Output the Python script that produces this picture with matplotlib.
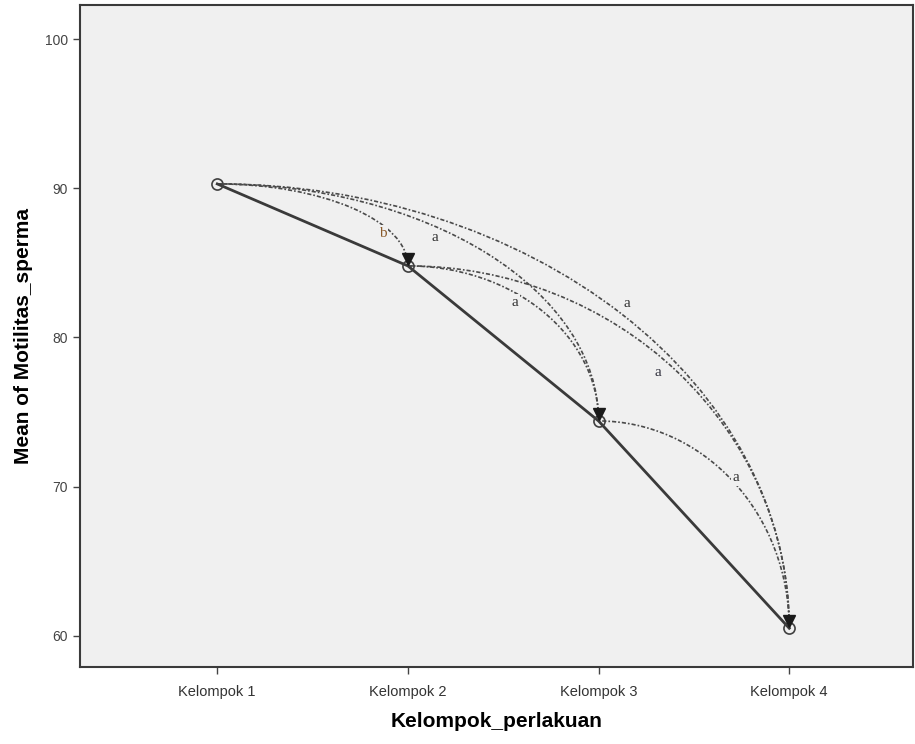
import numpy as np
import matplotlib
matplotlib.use("Agg")
import matplotlib.pyplot as plt
from matplotlib.patches import Arc
from matplotlib.transforms import offset_copy

plt.rcParams['font.family'] = ['Liberation Sans', 'DejaVu Sans']

# Data
groups = ["Kelompok 1", "Kelompok 2", "Kelompok 3", "Kelompok 4"]
mean_motility = [90.3, 84.8, 74.4, 60.5]

# pairwise comparisons (from, to) and significance letters
pairs = [(0, 1), (0, 2), (0, 3), (1, 2), (1, 3), (2, 3)]
pair_letters = ["b", "a", "a", "a", "a", "a"]
letter_x = [0.87, 1.14, 2.15, 1.56, 2.31, 2.72]
letter_y = [87.0, 86.7, 82.3, 82.35, 77.65, 70.6]
letter_colors = ["#8a5a2a", "#333333", "#333333", "#333333", "#333340", "#333333"]

yticks = [60, 70, 80, 90, 100]

fig = plt.figure(figsize=(9.15, 7.44), dpi=100)
ax = fig.add_axes([0.0874, 0.1035, 0.9106, 0.8898])
ax.set_facecolor("#f0f0f0")

x = np.arange(len(groups))
ax.plot(x, mean_motility, '-', color="#3a3a3a", linewidth=2, zorder=3)
ax.plot(x, mean_motility, 'o', markersize=8, markerfacecolor="none",
        markeredgecolor="#404040", markeredgewidth=1.2, zorder=4)

# comparison arcs: quarter ellipses leaving horizontally, arriving vertically
for (i, j), letter, lx, ly, lc in zip(pairs, pair_letters, letter_x, letter_y, letter_colors):
    x0, y0 = x[i], mean_motility[i]
    x1, y1 = x[j], mean_motility[j]
    arc = Arc((x0, y1), 2 * (x1 - x0), 2 * (y0 - y1), theta1=0, theta2=90,
              color="#4a4a4a", linewidth=1.2, linestyle=(0, (2.5, 1.2, 1, 1.2)), zorder=2)
    ax.add_patch(arc)
    ax.text(lx, ly, letter, fontsize=11, color=lc, ha="center", va="center",
            family="Liberation Serif", zorder=5,
            bbox=dict(boxstyle="square,pad=0.1", facecolor="#f0f0f0", edgecolor="none"))

# arrow heads at targets
targets = sorted(set(j for _, j in pairs))
tri_trans = offset_copy(ax.transData, fig=fig, x=0, y=5, units='points')
ax.plot([x[t] for t in targets], [mean_motility[t] for t in targets], 'v',
        color="#1a1a1a", markersize=9, transform=tri_trans, zorder=6)

ax.set_xlim(-0.72, 3.65)
ax.set_ylim(57.9, 102.3)
ax.set_xticks(x)
ax.set_xticklabels(groups, fontsize=10.5, color="#333333")
ax.set_yticks(yticks)
ax.set_yticklabels([str(v) for v in yticks], fontsize=10, color="#444444")
ax.tick_params(axis='both', length=5, width=1, color="#444444")
ax.tick_params(axis='x', pad=8)

for s in ax.spines.values():
    s.set_color("#3a3a3a")
    s.set_linewidth(1.5)

ax.set_xlabel("Kelompok_perlakuan", fontsize=15, fontweight="bold", labelpad=9)
ax.set_ylabel("Mean of Motilitas_sperma", fontsize=15, fontweight="bold", labelpad=9)

fig.savefig("out.png", dpi=100, facecolor="white")
